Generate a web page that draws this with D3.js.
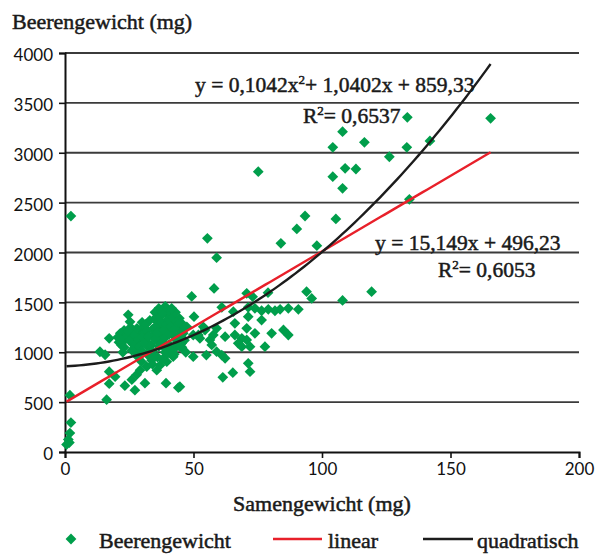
<!DOCTYPE html>
<html>
<head>
<meta charset="utf-8">
<script src="https://cdn.jsdelivr.net/npm/d3@7"></script>
<style>
  html, body { margin: 0; padding: 0; background: #fff; }
  svg { display: block; }
</style>
</head>
<body>
<svg id="chart" width="596" height="557"></svg>
<script>
// Samengewicht (mg) per berry
const seedWeight = [
  0.6, 1.3, 1.7, 1.9, 2.3, 1.9, 2.3,
  13.6, 15.6, 17.2, 17.2, 19.5, 17.2, 16.2, 23.3, 27.2, 31.1, 39.3, 44.1, 26, 27.9, 29.2, 24.6, 25.3,
  20.5, 21, 21.5, 22, 22.5, 23, 23.3, 24,
  25.5, 26, 26.5, 27, 27.5, 28, 28.5, 26.5, 29, 29.5,
  30, 30.5, 31, 31.5, 32, 32.5, 33, 33.5, 31.8, 29.8, 33.7, 34, 34.5,
  35, 35.5, 36, 36.5, 37, 37.5, 38, 38.5, 39, 36, 35.7, 37, 38, 36,
  37, 39.6, 41.5, 42.8, 40.9, 40, 41, 42, 43, 40.5, 41.5, 42.5, 39.6, 42.1, 44, 44.5,
  45, 46, 47.4, 46.5, 45.5, 47, 43.5,
  21.5, 23, 24.5, 25, 26, 27, 28, 28.5, 29, 30, 30, 31, 31.5, 32, 32.5, 33, 33.5, 34, 34.5,
  35, 35, 36, 36.5, 37.5, 38, 38.5, 39, 39.5, 40, 40.5, 41, 42, 42.5, 43, 43.5, 44,
  40, 38, 34, 32, 36.5, 39, 41.5,
  44.7, 46.7, 45.4, 44.7, 44.7, 49.9, 55, 49.9,
  49.3, 50.2, 53.8, 54.5, 59, 51.9, 52.5, 57.7, 56.4, 57.1, 59, 61, 62.3, 62.3, 61, 65.5,
  66.1, 66.1, 68.8, 70.7, 70.7, 71.3, 71.3, 73.9, 76.5, 76.5, 79.1, 81.7, 83.7, 86.9, 90.8,
  73.9, 80.4, 85, 86.9, 77.8, 67.4, 68.8, 72, 71.3, 72, 61.4, 65.3,
  58, 70.7, 73, 79, 94, 96, 55.4, 59, 75.2, 84, 90.2, 93.4, 98,
  105.4, 108, 119.3, 108, 116.5, 104.2, 133, 142, 126.2, 109, 113.2, 104.2, 108, 134, 133.2, 165.6
];

// Beerengewicht (mg), same order as seedWeight
const berryWeight = [
  75, 125, 95, 190, 295, 570, 2365,
  1005, 975, 1140, 805, 755, 685, 525, 665, 620, 690, 690, 645, 725, 775, 820, 1375, 1305,
  1150, 1100, 1190, 1070, 1000, 1220, 1125, 1160,
  1250, 1200, 1150, 1100, 1050, 990, 950, 1080, 1170, 1230,
  1300, 1250, 1200, 1150, 1100, 1050, 1000, 950, 855, 905, 920, 1230, 1180,
  1400, 1350, 1300, 1250, 1200, 1150, 1100, 1050, 1000, 950, 820, 870, 1280, 1120,
  1355, 1390, 1325, 1290, 1225, 1420, 1380, 1180, 1130, 1080, 1030, 980, 905, 955, 1230, 1340,
  1300, 1190, 1255, 1120, 1050, 1000, 1060,
  1130, 1050, 1210, 1120, 1020, 1170, 1240, 1130, 1060, 1010, 1150, 1090, 1280, 1220, 1160, 1320, 1070, 1010, 960,
  1250, 1130, 1200, 1060, 1300, 1390, 1220, 1150, 1280, 1330, 1180, 1260, 1350, 1230, 1400, 1300, 1150,
  990, 930, 880, 980, 1440, 1460, 1440,
  1290, 1255, 1090, 1055, 655, 955, 972, 1173,
  1560, 1357, 1255, 1223, 1240, 1173, 1140, 1173, 1123, 1073, 1006, 972, 939, 1156, 1450, 1407,
  1290, 1173, 1140, 1123, 1240, 1357, 1451, 1440, 1416, 1323, 1430, 1416, 1430, 1440, 1430,
  1190, 1190, 1223, 1173, 1056, 1090, 1056, 1056, 889, 805, 749, 795,
  1640, 1591, 1557, 1597, 1607, 1540, 2142, 1948, 2810, 2092, 2236, 2366, 2068,
  2336, 1520, 1607, 3211, 3105, 3055, 3055, 3118, 2960, 2844, 2837, 2760, 2644, 2533, 3355, 3345
];

const xTicks = [0, 50, 100, 150, 200];
const yTicks = [0, 500, 1000, 1500, 2000, 2500, 3000, 3500, 4000];

// Trendline coefficients
const linearFit = [15.149, 496.23];            // slope, intercept
const quadFit = [0.1042, 1.0402, 859.33];      // a, b, c
const linearR2 = "0,6053";
const quadR2 = "0,6537";

const legendLabels = ["Beerengewicht", "linear", "quadratisch"];

const svg = d3.select("#chart");
const serif = "'Liberation Serif', 'Times New Roman', serif";
const sans = "Lato, 'Open Sans', sans-serif";
const green = "#009e4b";

const x = d3.scaleLinear().domain([0, 200]).range([65, 579]);
const y = d3.scaleLinear().domain([0, 4000]).range([452, 53]);

// horizontal gridlines
svg.append("g")
  .selectAll("line")
  .data(yTicks.filter(v => v > 0))
  .join("line")
  .attr("x1", x(0)).attr("x2", x(200))
  .attr("y1", d => y(d)).attr("y2", d => y(d))
  .attr("stroke", "#3b3b3b").attr("stroke-width", 1.8);

// axes
const yAxis = d3.axisLeft(y).tickValues(yTicks).tickSize(6).tickPadding(6).tickFormat(d3.format("d"));
const xAxis = d3.axisBottom(x).tickValues(xTicks).tickSize(6).tickPadding(5).tickFormat(d3.format("d"));

const gy = svg.append("g").attr("transform", `translate(${x(0)},0)`).call(yAxis);
const gx = svg.append("g").attr("transform", `translate(0,${y(0)})`).call(xAxis);

[gx, gy].forEach(g => {
  g.select(".domain").attr("stroke", "#111").attr("stroke-width", 2);
  g.selectAll(".tick line").attr("stroke", "#111").attr("stroke-width", 1.6);
  g.selectAll(".tick text")
    .attr("font-family", sans).attr("font-size", 17)
    .attr("fill", "#111");
});
gy.selectAll(".tick text").attr("dy", "0.45em");

// data points
const diamond = d3.symbol(d3.symbolSquare, 58);
svg.append("g")
  .selectAll("path")
  .data(d3.range(seedWeight.length))
  .join("path")
  .attr("d", diamond)
  .attr("transform", i => `translate(${x(seedWeight[i])},${y(berryWeight[i])}) rotate(45)`)
  .attr("fill", green);

// trendlines over the observed seed weight range
const [xMin, xMax] = d3.extent(seedWeight);
const xs = d3.range(0, 101).map(k => xMin + (xMax - xMin) * k / 100);
const linearY = v => linearFit[0] * v + linearFit[1];
const quadY = v => quadFit[0] * v * v + quadFit[1] * v + quadFit[2];
const line = f => d3.line().x(v => x(v)).y(v => y(f(v)));

svg.append("path").attr("d", line(linearY)(xs))
  .attr("fill", "none").attr("stroke", "#e8202a").attr("stroke-width", 2.4);
svg.append("path").attr("d", line(quadY)(xs))
  .attr("fill", "none").attr("stroke", "#1c1c1c").attr("stroke-width", 2.4);

// text helpers
function label(xp, yp, anchor, size) {
  return svg.append("text")
    .attr("x", xp).attr("y", yp)
    .attr("text-anchor", anchor)
    .attr("font-family", serif).attr("font-size", size)
    .attr("fill", "#1a1a1a")
    .attr("stroke", "#1a1a1a").attr("stroke-width", 0.5);
}

function fmt(v, digits) {
  return v.toFixed(digits).replace(".", ",");
}

// axis titles
label(12, 29, "start", 22).text("Beerengewicht (mg)");
label(x(100), 511, "middle", 22).text("Samengewicht (mg)");

// quadratic equation
const q = label(195, 92, "start", 21.5);
q.append("tspan").text(`y = ${fmt(quadFit[0], 4)}x`);
q.append("tspan").attr("font-size", 13).attr("dy", -8).text("2");
q.append("tspan").attr("dy", 8).text(`+ ${fmt(quadFit[1], 4)}x + ${fmt(quadFit[2], 2)}`);

const q2 = label(303, 123, "start", 21.5);
q2.append("tspan").text("R");
q2.append("tspan").attr("font-size", 13).attr("dy", -8).text("2");
q2.append("tspan").attr("dy", 8).text(`= ${quadR2}`);

// linear equation
label(375, 250, "start", 21.5).text(`y = ${fmt(linearFit[0], 3)}x + ${fmt(linearFit[1], 2)}`);
const l2 = label(438, 277, "start", 21.5);
l2.append("tspan").text("R");
l2.append("tspan").attr("font-size", 13).attr("dy", -8).text("2");
l2.append("tspan").attr("dy", 8).text(`= ${linearR2}`);

// legend
const ly = 539;
svg.append("path").attr("d", diamond)
  .attr("transform", `translate(71,${ly}) rotate(45)`).attr("fill", green);
label(99, 548, "start", 22).text(legendLabels[0]);
svg.append("line").attr("x1", 273).attr("x2", 322).attr("y1", ly).attr("y2", ly)
  .attr("stroke", "#e8202a").attr("stroke-width", 2.4);
label(328, 548, "start", 22).text(legendLabels[1]);
svg.append("line").attr("x1", 423).attr("x2", 473).attr("y1", ly).attr("y2", ly)
  .attr("stroke", "#1c1c1c").attr("stroke-width", 2.4);
label(477, 548, "start", 22).text(legendLabels[2]);
</script>
</body>
</html>
